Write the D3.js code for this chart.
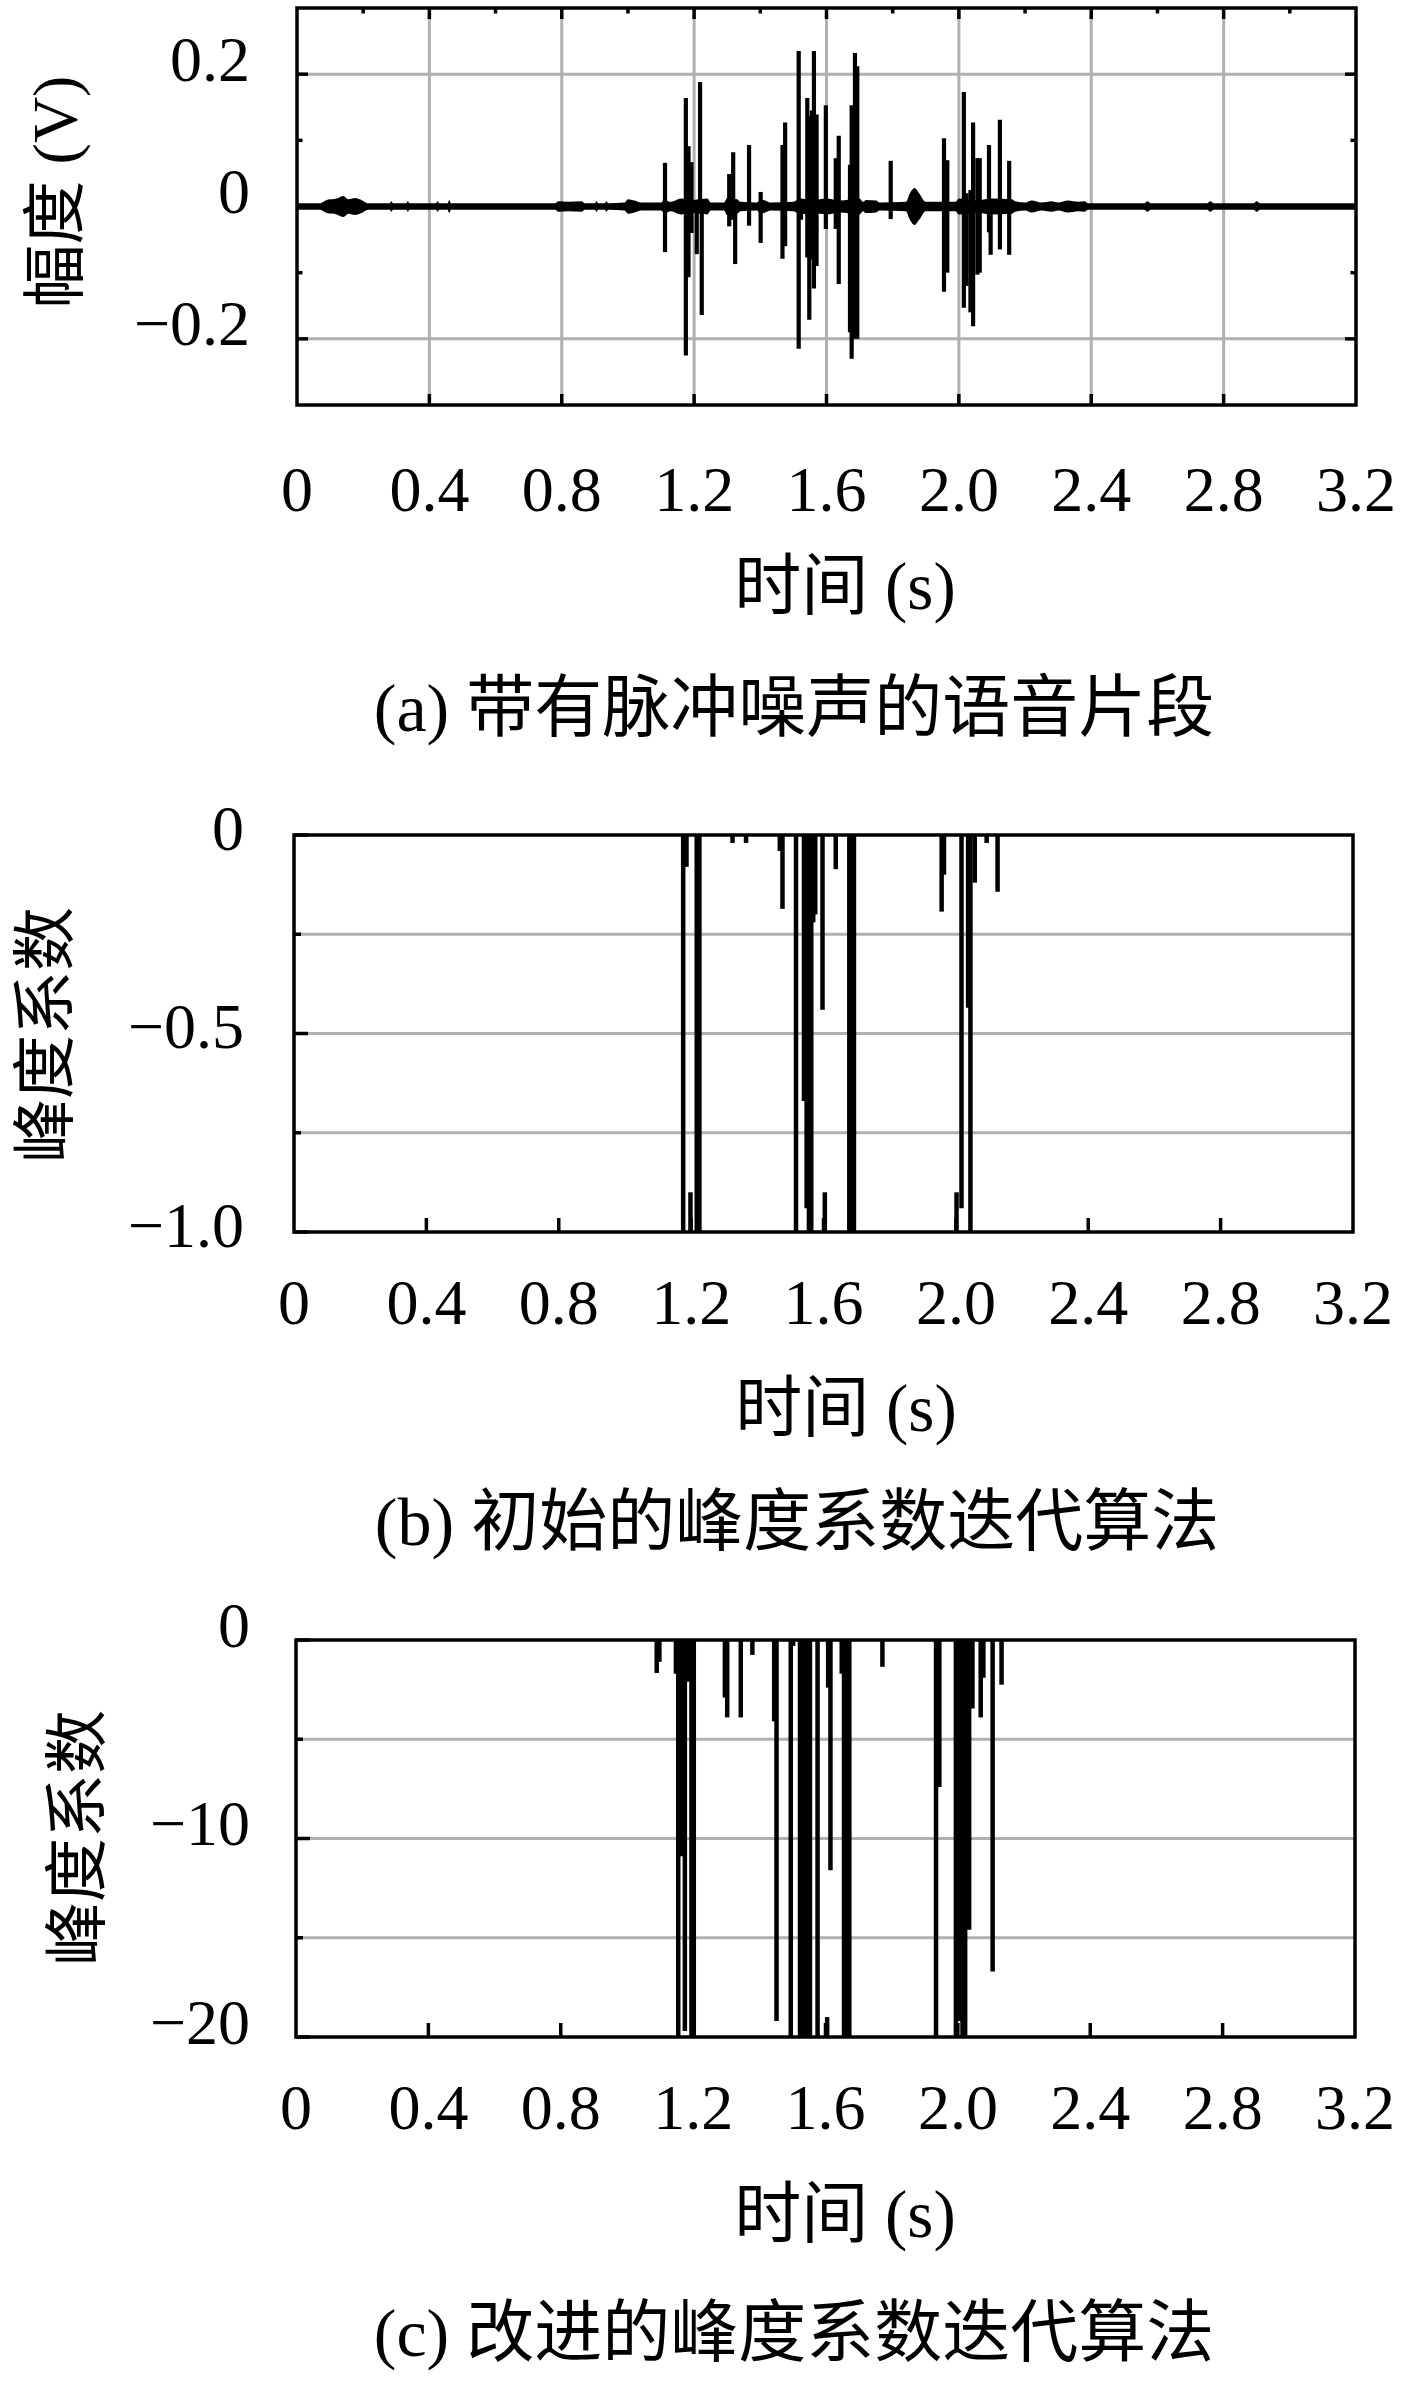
<!DOCTYPE html>
<html>
<head>
<meta charset="utf-8">
<title>峰度系数迭代算法</title>
<script src="https://cdn.jsdelivr.net/npm/d3@7/dist/d3.min.js"></script>
<style>
  body { margin: 0; background: #fff; }
  text { font-family: "Liberation Serif", "Noto Sans CJK SC", serif; fill: #000; }
</style>
</head>
<body>
<svg id="chart" width="1417" height="2386"></svg>
<script>
// ---- data ----
var timeTicks = [0, 0.4, 0.8, 1.2, 1.6, 2.0, 2.4, 2.8, 3.2];
var timeLabels = ["0", "0.4", "0.8", "1.2", "1.6", "2.0", "2.4", "2.8", "3.2"];
var timeMinor = [0.2, 0.6, 1.0, 1.4, 1.8, 2.2, 2.6, 3.0];

var ampTicks = [0.2, 0, -0.2];
var ampLabels = ["0.2", "0", "\u22120.2"];
var ampMinor = [0.1, -0.1];

var kurtTicksB = [0, -0.5, -1.0];
var kurtLabelsB = ["0", "\u22120.5", "\u22121.0"];
var kurtGridB = [-0.25, -0.5, -0.75];

var kurtTicksC = [0, -10, -20];
var kurtLabelsC = ["0", "\u221210", "\u221220"];
var kurtGridC = [-5, -10, -15];

// noise envelope of the waveform: [time, half amplitude]
var envelope = [
  [0, 0.005], [0.07, 0.005], [0.09, 0.010], [0.12, 0.012], [0.14, 0.016], [0.155, 0.011],
  [0.175, 0.013], [0.195, 0.010], [0.215, 0.005],
  [0.28, 0.005], [0.285, 0.008], [0.29, 0.005],
  [0.33, 0.005], [0.335, 0.008], [0.34, 0.005],
  [0.42, 0.005], [0.425, 0.008], [0.43, 0.005],
  [0.455, 0.005], [0.46, 0.010], [0.465, 0.005],
  [0.78, 0.005], [0.79, 0.008], [0.82, 0.007], [0.86, 0.008], [0.87, 0.005],
  [0.90, 0.005], [0.905, 0.008], [0.91, 0.005],
  [0.93, 0.005], [0.935, 0.008], [0.94, 0.005],
  [0.99, 0.006], [1.00, 0.011], [1.02, 0.009], [1.04, 0.006],
  [1.10, 0.006], [1.11, 0.010], [1.13, 0.007], [1.16, 0.012], [1.20, 0.010], [1.24, 0.012], [1.25, 0.006],
  [1.29, 0.006], [1.30, 0.013], [1.33, 0.011], [1.34, 0.007], [1.39, 0.006], [1.40, 0.011],
  [1.42, 0.008], [1.43, 0.006], [1.50, 0.007], [1.52, 0.012], [1.56, 0.010], [1.60, 0.012],
  [1.64, 0.009], [1.70, 0.012], [1.71, 0.007],
  [1.72, 0.010], [1.75, 0.009], [1.76, 0.006], [1.84, 0.007], [1.852, 0.020], [1.866, 0.028],
  [1.88, 0.020], [1.90, 0.007], [1.99, 0.007], [2.00, 0.012], [2.05, 0.009], [2.10, 0.012],
  [2.16, 0.011], [2.17, 0.008], [2.20, 0.006], [2.22, 0.009], [2.25, 0.006], [2.28, 0.008],
  [2.30, 0.006], [2.33, 0.009], [2.36, 0.007], [2.38, 0.008], [2.39, 0.005],
  [2.56, 0.005], [2.57, 0.008], [2.58, 0.005],
  [2.75, 0.005], [2.76, 0.008], [2.77, 0.005],
  [2.89, 0.005], [2.90, 0.008], [2.91, 0.005], [3.2, 0.005]
];

// impulses in the waveform: [time, max, min]
var waveSpikes = [
  [1.112, 0.066, -0.069], [1.175, 0.164, -0.225], [1.183, 0.091, -0.107], [1.192, 0.067, -0.040],
  [1.208, 0.010, -0.072], [1.218, 0.188, -0.010], [1.223, 0.010, -0.164], [1.306, 0.049, -0.030],
  [1.318, 0.082, -0.020], [1.324, 0.010, -0.087], [1.366, 0.093, -0.029], [1.401, 0.022, -0.055],
  [1.467, 0.093, -0.079], [1.475, 0.127, -0.060], [1.516, 0.235, -0.215], [1.523, 0.010, -0.020],
  [1.542, 0.164, -0.077], [1.548, 0.137, -0.171], [1.556, 0.145, -0.080], [1.562, 0.235, -0.124],
  [1.570, 0.139, -0.090], [1.598, 0.153, -0.034], [1.628, 0.073, -0.034], [1.637, 0.107, -0.117],
  [1.671, 0.063, -0.190], [1.676, 0.153, -0.230], [1.686, 0.232, -0.200], [1.693, 0.212, -0.200],
  [1.794, 0.069, -0.019], [1.955, 0.103, -0.129], [1.965, 0.070, -0.100], [2.015, 0.173, -0.153],
  [2.023, 0.020, -0.120], [2.035, 0.025, -0.160], [2.043, 0.127, -0.181], [2.056, 0.073, -0.103],
  [2.063, 0.073, -0.100], [2.091, 0.093, -0.039], [2.096, 0.010, -0.073], [2.124, 0.131, -0.065],
  [2.152, 0.069, -0.073]
];

// initial kurtosis iteration: [time, top, bottom]
var kurtB = [
  [1.176, 0, -1.05], [1.181, 0, -0.08], [1.186, 0, -0.08], [1.198, -0.9, -1.05],
  [1.217, 0, -1.05], [1.225, 0, -1.05], [1.325, 0, -0.02], [1.366, 0, -0.02],
  [1.468, 0, -0.04], [1.476, 0, -0.186], [1.517, 0, -1.05], [1.541, 0, -0.67],
  [1.549, 0, -0.94], [1.556, 0, -1.05], [1.563, 0, -1.05], [1.569, 0, -0.22],
  [1.575, 0, -0.20], [1.597, 0, -0.44], [1.604, -0.9, -1.05], [1.637, 0, -0.086],
  [1.678, 0, -1.05], [1.685, 0, -1.05], [1.692, 0, -1.05], [1.957, 0, -0.193],
  [1.964, 0, -0.10], [2.002, -0.9, -1.05], [2.017, 0, -0.94], [2.037, 0, -0.435],
  [2.044, 0, -1.05], [2.057, 0, -0.12], [2.093, 0, -0.02], [2.126, 0, -0.143]
];

// improved kurtosis iteration: [time, top, bottom]
var kurtC = [
  [1.090, 0, -1.66], [1.098, 0, -1.1], [1.148, 0, -1.7], [1.155, 0, -20.5],
  [1.165, 0, -10.9], [1.175, 0, -19.7], [1.185, 0, -2.1], [1.195, 0, -20.5],
  [1.202, 0, -20.5], [1.296, 0, -2.9], [1.303, 0, -3.9], [1.344, 0, -3.9],
  [1.379, 0, -0.75], [1.445, 0, -4.1], [1.452, 0, -19.2], [1.495, 0, -20.5],
  [1.502, 0, -0.3], [1.523, 0, -20.5], [1.531, 0, -20.5], [1.539, 0, -20.5],
  [1.547, 0, -20.5], [1.553, 0, -20.5], [1.576, 0, -20.5], [1.605, -19, -20.5],
  [1.608, 0, -2.4], [1.615, 0, -11.6], [1.649, 0, -1.7], [1.656, 0, -20.5],
  [1.664, 0, -20.5], [1.672, 0, -20.5], [1.772, 0, -1.35], [1.934, 0, -20.5],
  [1.941, 0, -3.5], [1.944, 0, -7.4], [1.994, 0, -20.5], [2.004, 0, -19.2],
  [2.014, 0, -20.5], [2.022, 0, -20.5], [2.034, 0, -14.6], [2.044, 0, -3.45],
  [2.069, 0, -3.9], [2.077, 0, -1.9], [2.105, 0, -16.7], [2.132, 0, -2.25]
];

var svg = d3.select("#chart");
svg.append("rect").attr("width", 1417).attr("height", 2386).attr("fill", "#fff");

var GRID = "#b0b0b0";

function drawPanel(p) {
  var x = d3.scaleLinear().domain([0, 3.2]).range([p.left, p.right]);
  var y = d3.scaleLinear().domain(p.yDomain).range([p.bottom, p.top]);
  var g = svg.append("g").attr("id", p.id);

  g.append("clipPath").attr("id", "clip-" + p.id)
    .append("rect")
    .attr("x", p.left).attr("y", p.top)
    .attr("width", p.right - p.left).attr("height", p.bottom - p.top);

  // grid
  if (p.vGrid) {
    g.selectAll(".vgrid").data(timeTicks.slice(1, -1)).join("line")
      .attr("class", "vgrid")
      .attr("x1", function(d) { return x(d); }).attr("x2", function(d) { return x(d); })
      .attr("y1", p.top).attr("y2", p.bottom)
      .attr("stroke", GRID).attr("stroke-width", 3);
  }
  g.selectAll(".hgrid").data(p.hGrid).join("line")
    .attr("class", "hgrid")
    .attr("x1", p.left).attr("x2", p.right)
    .attr("y1", function(d) { return y(d); }).attr("y2", function(d) { return y(d); })
    .attr("stroke", GRID).attr("stroke-width", 3);

  // data
  var plot = g.append("g").attr("clip-path", "url(#clip-" + p.id + ")");
  p.drawData(plot, x, y);

  // ticks
  var ticks = g.append("g").attr("stroke", "#000").attr("stroke-width", 3.5);
  ticks.selectAll(".tb").data(timeTicks.slice(1, -1)).join("line")
    .attr("x1", function(d) { return x(d); }).attr("x2", function(d) { return x(d); })
    .attr("y1", p.bottom).attr("y2", p.bottom - p.tickLen);
  ticks.selectAll(".tl").data(p.yTicks).join("line")
    .attr("x1", p.left).attr("x2", p.left + p.tickLen)
    .attr("y1", function(d) { return y(d); }).attr("y2", function(d) { return y(d); });
  ticks.selectAll(".tlm").data(p.yMinor).join("line")
    .attr("x1", p.left).attr("x2", p.left + p.tickLen / 2)
    .attr("y1", function(d) { return y(d); }).attr("y2", function(d) { return y(d); });
  if (p.allSides) {
    ticks.selectAll(".tt").data(timeTicks.slice(1, -1)).join("line")
      .attr("x1", function(d) { return x(d); }).attr("x2", function(d) { return x(d); })
      .attr("y1", p.top).attr("y2", p.top + p.tickLen);
    ticks.selectAll(".ttm").data(timeMinor).join("line")
      .attr("x1", function(d) { return x(d); }).attr("x2", function(d) { return x(d); })
      .attr("y1", p.top).attr("y2", p.top + p.tickLen / 2);
    ticks.selectAll(".tr").data(p.yTicks).join("line")
      .attr("x1", p.right).attr("x2", p.right - p.tickLen)
      .attr("y1", function(d) { return y(d); }).attr("y2", function(d) { return y(d); });
    ticks.selectAll(".trm").data(p.yMinor).join("line")
      .attr("x1", p.right).attr("x2", p.right - p.tickLen / 2)
      .attr("y1", function(d) { return y(d); }).attr("y2", function(d) { return y(d); });
  }

  // frame
  g.append("rect")
    .attr("x", p.left).attr("y", p.top)
    .attr("width", p.right - p.left).attr("height", p.bottom - p.top)
    .attr("fill", "none").attr("stroke", "#000").attr("stroke-width", 3.5);

  // tick labels
  g.selectAll(".xl").data(timeTicks).join("text")
    .attr("x", function(d) { return x(d); })
    .attr("y", p.xLabelY)
    .attr("text-anchor", "middle").attr("dominant-baseline", "central")
    .style("font-size", "64px")
    .text(function(d, i) { return timeLabels[i]; });
  g.selectAll(".yl").data(p.yTicks).join("text")
    .attr("x", p.yLabelRight)
    .attr("y", function(d) { return y(d) + p.yLabelShift; })
    .attr("text-anchor", "end").attr("dominant-baseline", "central")
    .style("font-size", "64px")
    .text(function(d, i) { return p.yLabels[i]; });

  // axis titles and caption
  g.append("text")
    .attr("transform", "translate(" + p.yTitle[0] + "," + p.yTitle[1] + ") rotate(-90)")
    .attr("text-anchor", "middle").attr("dominant-baseline", "central")
    .style("font-size", "64px")
    .text(p.yTitleText);
  g.append("text")
    .attr("x", p.xTitle[0]).attr("y", p.xTitle[1])
    .attr("text-anchor", "middle").attr("dominant-baseline", "central")
    .style("font-size", "67px")
    .text("时间 (s)");
  g.append("text")
    .attr("x", p.caption[0]).attr("y", p.caption[1])
    .attr("text-anchor", "middle").attr("dominant-baseline", "central")
    .style("font-size", "68px")
    .text(p.captionText);
}

function drawImpulses(plot, x, y, rows) {
  plot.selectAll(".imp").data(rows).join("line")
    .attr("class", "imp")
    .attr("x1", function(d) { return x(d[0]); }).attr("x2", function(d) { return x(d[0]); })
    .attr("y1", function(d) { return y(d[1]); }).attr("y2", function(d) { return y(d[2]); })
    .attr("stroke", "#000").attr("stroke-width", 4.5);
}

drawPanel({
  id: "pa", left: 297, right: 1356, top: 8, bottom: 405,
  yDomain: [-0.3, 0.3], vGrid: true, hGrid: [0.2, 0, -0.2],
  yTicks: ampTicks, yLabels: ampLabels, yMinor: ampMinor, tickLen: 11, allSides: true,
  xLabelY: 489, yLabelRight: 250, yLabelShift: -15,
  yTitle: [55, 192], yTitleText: "幅度 (V)",
  xTitle: [845, 586], caption: [794, 708], captionText: "(a) 带有脉冲噪声的语音片段",
  drawData: function(plot, x, y) {
    var area = d3.area()
      .curve(d3.curveMonotoneX)
      .x(function(d) { return x(d[0]); })
      .y0(function(d) { return y(-d[1]); })
      .y1(function(d) { return y(d[1]); });
    plot.append("path").datum(envelope).attr("d", area).attr("fill", "#000");
    plot.selectAll(".sp").data(waveSpikes).join("line")
      .attr("x1", function(d) { return x(d[0]); }).attr("x2", function(d) { return x(d[0]); })
      .attr("y1", function(d) { return y(d[1]); }).attr("y2", function(d) { return y(d[2]); })
      .attr("stroke", "#000").attr("stroke-width", 4.2);
  }
});

drawPanel({
  id: "pb", left: 294, right: 1353, top: 835, bottom: 1232,
  yDomain: [-1, 0], vGrid: false, hGrid: kurtGridB,
  yTicks: kurtTicksB, yLabels: kurtLabelsB, yMinor: [-0.25, -0.75], tickLen: 14, allSides: false,
  xLabelY: 1302, yLabelRight: 244, yLabelShift: -7,
  yTitle: [45, 1035], yTitleText: "峰度系数",
  xTitle: [846, 1408], caption: [797, 1522], captionText: "(b) 初始的峰度系数迭代算法",
  drawData: function(plot, x, y) { drawImpulses(plot, x, y, kurtB); }
});

drawPanel({
  id: "pc", left: 296, right: 1355, top: 1640, bottom: 2037,
  yDomain: [-20, 0], vGrid: false, hGrid: kurtGridC,
  yTicks: kurtTicksC, yLabels: kurtLabelsC, yMinor: [-5, -15], tickLen: 14, allSides: false,
  xLabelY: 2107, yLabelRight: 250, yLabelShift: -15,
  yTitle: [77, 1838], yTitleText: "峰度系数",
  xTitle: [845, 2214], caption: [794, 2333], captionText: "(c) 改进的峰度系数迭代算法",
  drawData: function(plot, x, y) { drawImpulses(plot, x, y, kurtC); }
});
</script>
</body>
</html>
